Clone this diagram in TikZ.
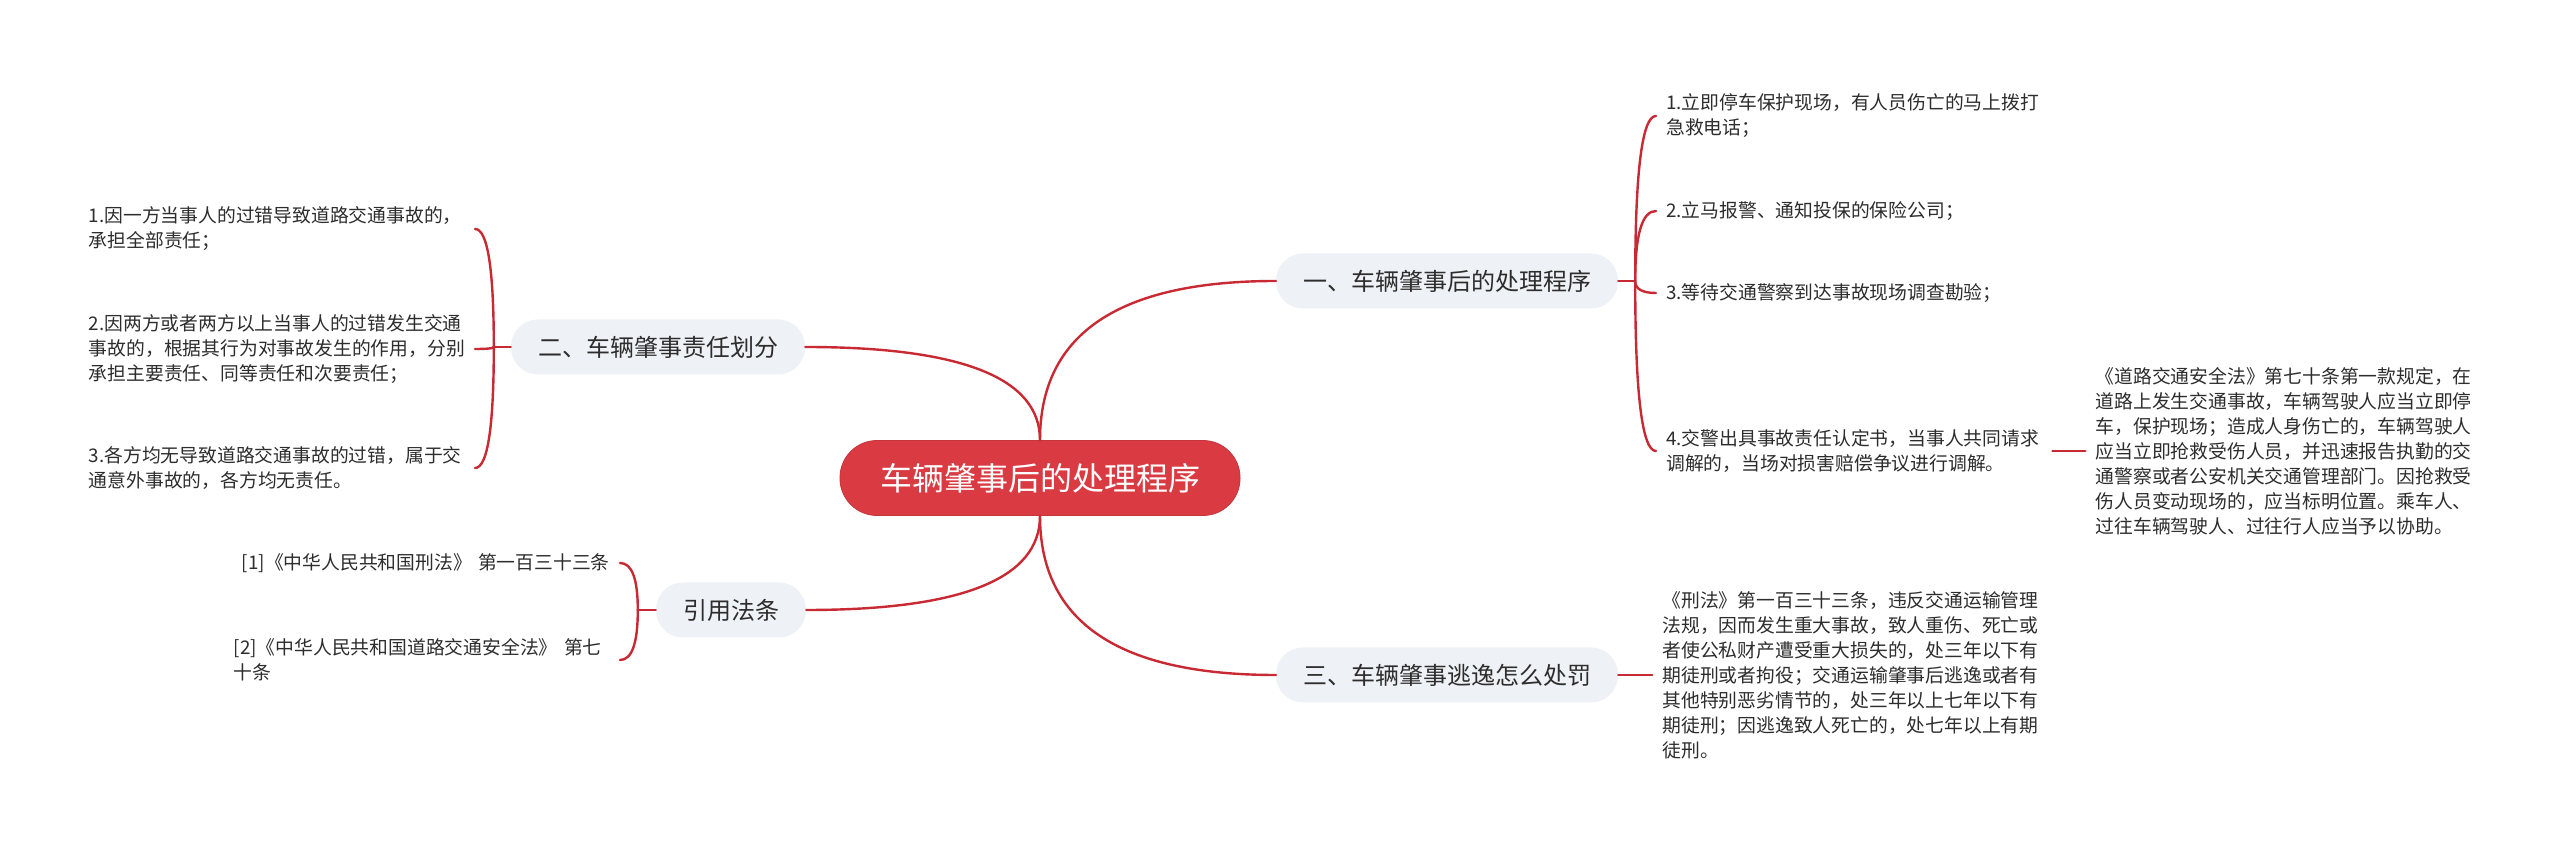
\documentclass[tikz,border=0pt]{standalone}
\usepackage{fontspec}
\setmainfont{Noto Sans CJK SC}
\definecolor{mapred}{RGB}{218, 59, 67}
\definecolor{linkred}{RGB}{200, 42, 52}
\definecolor{topicgray}{RGB}{238, 241, 245}
\definecolor{inkgray}{RGB}{45, 45, 45}
\usetikzlibrary{positioning, calc}
\tikzset{
	rootnode/.style={rectangle, rounded corners=37pt, fill=mapred, draw=mapred!90!black, line width=0.8pt, text=white, minimum height=75pt, inner xsep=40pt, font=\fontsize{32}{38}\selectfont},
	topic/.style={rectangle, rounded corners=27pt, fill=topicgray, minimum height=55pt, inner xsep=27pt, text=inkgray, font=\fontsize{24}{29}\selectfont},
	note/.style={rectangle, align=left, text width=376pt, inner xsep=10pt, inner ysep=2pt, text=inkgray, font=\fontsize{18.8}{25}\selectfont},
	link/.style={draw=linkred, line width=2.4pt, line cap=round},
	elbow/.style={to path={.. controls ($(\tikztostart)!0.667!(\tikztostart|-\tikztotarget)$) and ($(\tikztotarget)!0.667!(\tikztostart|-\tikztotarget)$) .. (\tikztotarget)}},
}

\begin{document}
\begin{tikzpicture}[x=1pt, y=1pt]
		\fill[white] (0,0) rectangle (2560,851);
		\useasboundingbox (0,0) rectangle (2560,851);
		\node[rootnode] (root) at (1040,373) {车辆肇事后的处理程序};
		\node[topic] (b1) at (1447,570) {一、车辆肇事后的处理程序};
		\node[topic] (b2) at (658,504) {二、车辆肇事责任划分};
		\node[topic] (b3) at (731,241) {引用法条};
		\node[topic] (b4) at (1447,176) {三、车辆肇事逃逸怎么处罚};
		% 一、处理程序
		\node[note, anchor=west] (l11) at (1656,735) {1.立即停车保护现场，有人员伤亡的马上拨打\\急救电话；};
		\node[note, anchor=west] (l12) at (1656,640) {2.立马报警、通知投保的保险公司；};
		\node[note, anchor=west] (l13) at (1656,558) {3.等待交通警察到达事故现场调查勘验；};
		\node[note, anchor=west] (l14) at (1656,400) {4.交警出具事故责任认定书，当事人共同请求\\调解的，当场对损害赔偿争议进行调解。};
		\node[note, right=33pt of l14] (l141) {《道路交通安全法》第七十条第一款规定，在\\道路上发生交通事故，车辆驾驶人应当立即停\\车，保护现场；造成人身伤亡的，车辆驾驶人\\应当立即抢救受伤人员，并迅速报告执勤的交\\通警察或者公安机关交通管理部门。因抢救受\\伤人员变动现场的，应当标明位置。乘车人、\\过往车辆驾驶人、过往行人应当予以协助。};
		% 二、责任划分
		\node[note, anchor=east] (l21) at (475,622) {1.因一方当事人的过错导致道路交通事故的，\\承担全部责任；};
		\node[note, anchor=east] (l22) at (475,502) {2.因两方或者两方以上当事人的过错发生交通\\事故的，根据其行为对事故发生的作用，分别\\承担主要责任、同等责任和次要责任；};
		\node[note, anchor=east] (l23) at (475,383) {3.各方均无导致道路交通事故的过错，属于交\\通意外事故的，各方均无责任。};
		% 引用法条
		\node[note, align=right, anchor=east] (l31) at (620,288) {[1]《中华人民共和国刑法》 第一百三十三条};
		\node[note, anchor=east] (l32) at (620,191) {[2]《中华人民共和国道路交通安全法》 第七\\十条};
		% 三、逃逸
		\node[note, right=34pt of b4] (l41) {《刑法》第一百三十三条，违反交通运输管理\\法规，因而发生重大事故，致人重伤、死亡或\\者使公私财产遭受重大损失的，处三年以下有\\期徒刑或者拘役；交通运输肇事后逃逸或者有\\其他特别恶劣情节的，处三年以上七年以下有\\期徒刑；因逃逸致人死亡的，处七年以上有期\\徒刑。};

		\coordinate (j1) at ($(b1.east)+(17,0)$);
		\coordinate (j2) at ($(b2.west)+(-17,0)$);
		\coordinate (j3) at ($(b3.west)+(-18,0)$);

		\draw[link] (root.north) to[elbow] (b1.west);
		\draw[link] (root.north) to[elbow] (b2.east);
		\draw[link] (root.south) to[elbow] (b3.east);
		\draw[link] (root.south) to[elbow] (b4.west);
		\draw[link] (b1.east) -- (j1);
		\draw[link] (b2.west) -- (j2);
		\draw[link] (b3.west) -- (j3);
		\foreach \x in {l11,l12,l13,l14}{\draw[link] (j1) to[elbow] (\x.west);}
		\foreach \x in {l21,l22,l23}{\draw[link] (j2) to[elbow] (\x.east);}
		\foreach \x in {l31,l32}{\draw[link] (j3) to[elbow] (\x.east);}
		\draw[link] (l14) -- (l141);
		\draw[link] (b4) -- (l41);
	\end{tikzpicture}
\end{document}
